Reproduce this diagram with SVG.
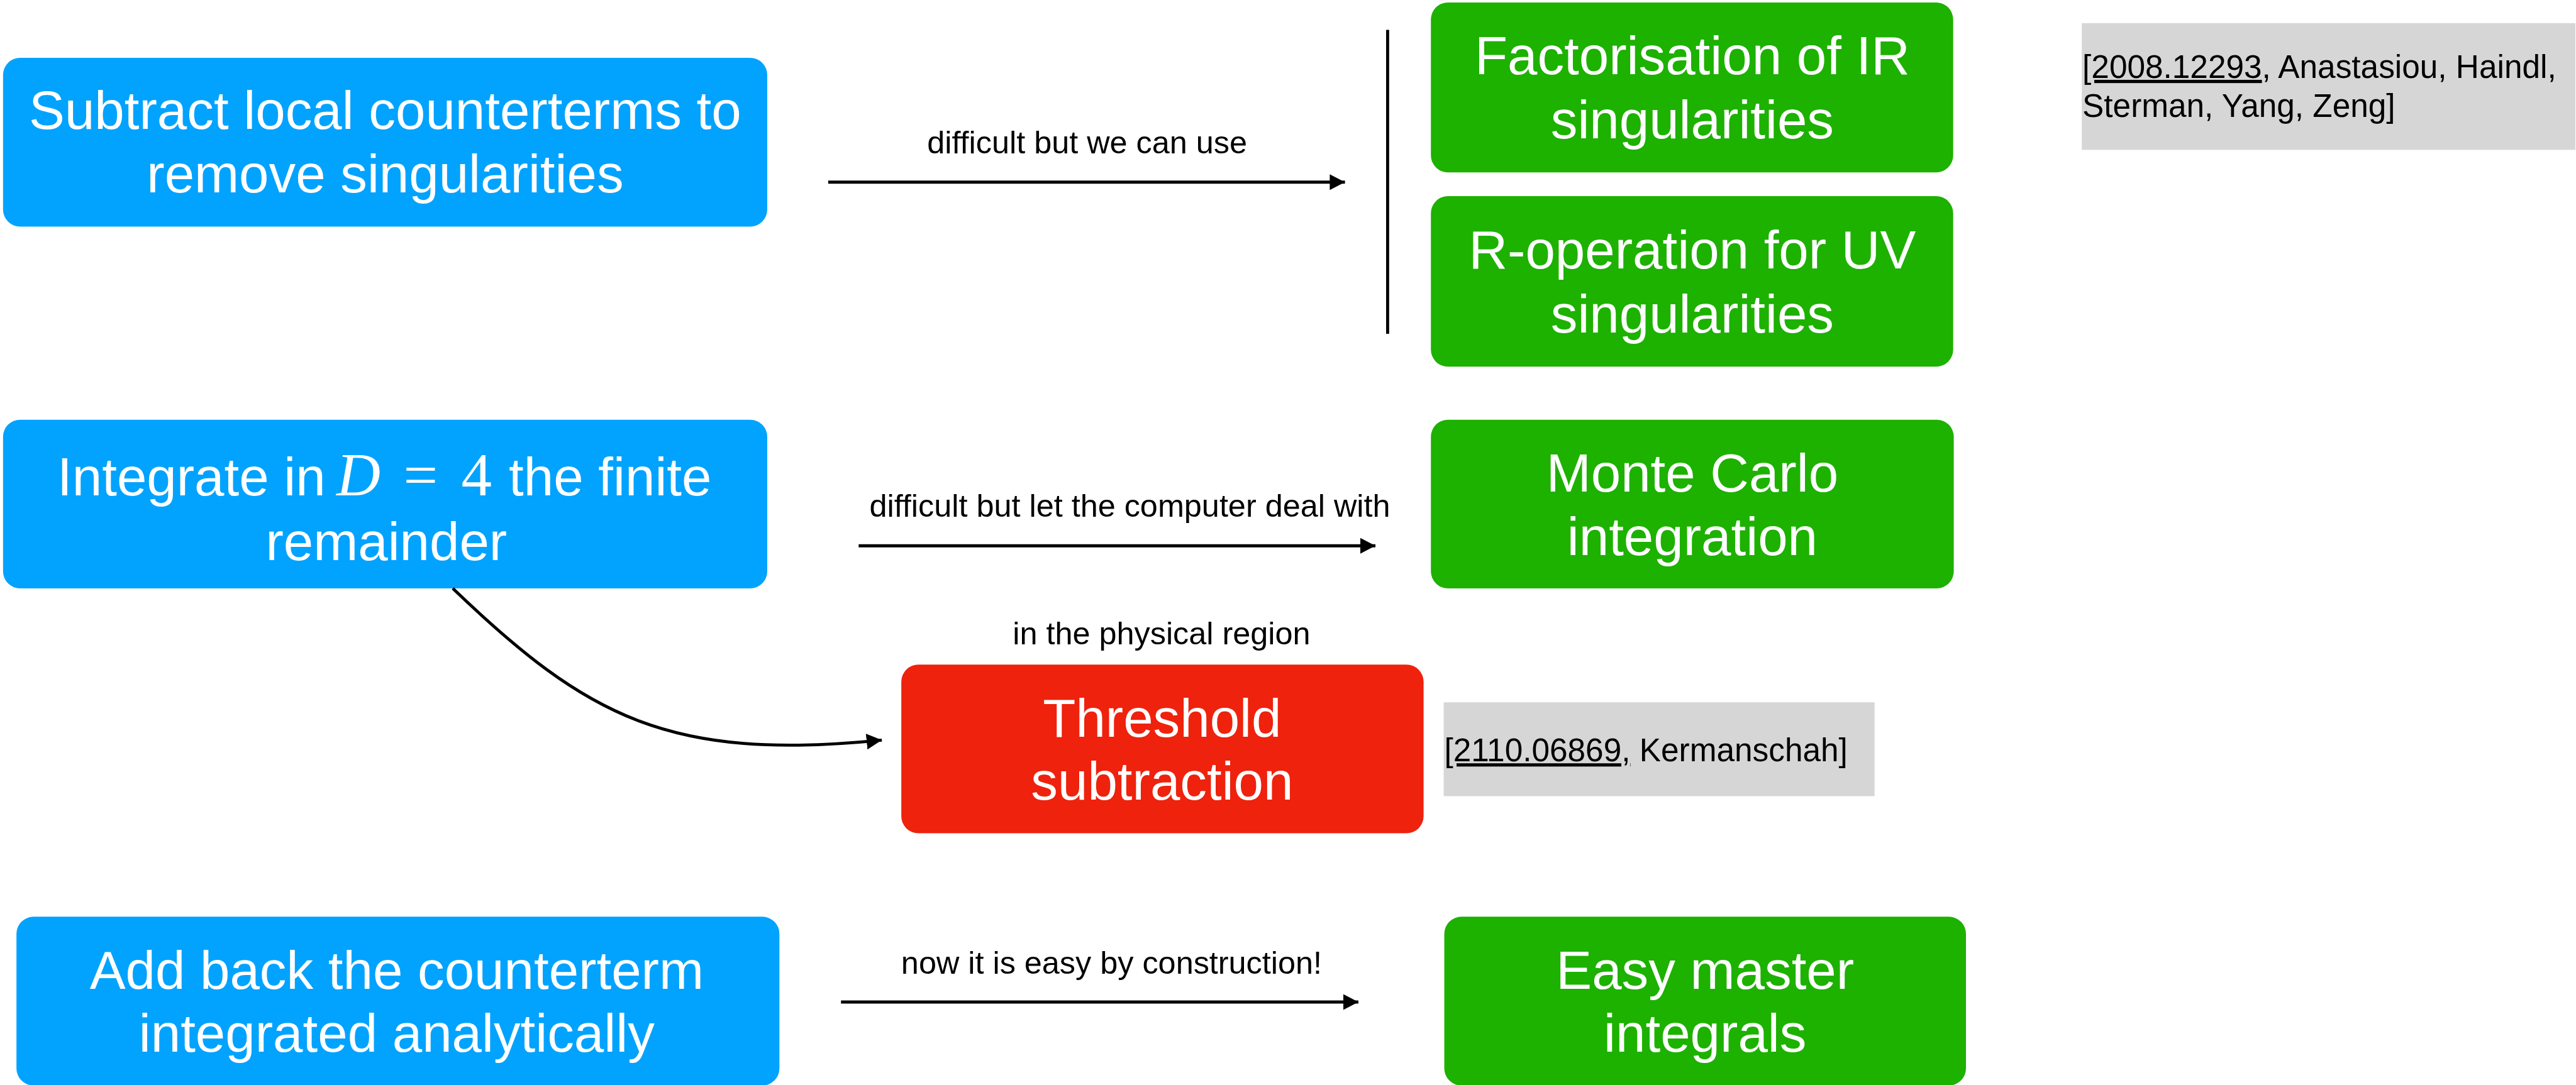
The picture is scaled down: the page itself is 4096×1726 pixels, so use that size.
<svg xmlns="http://www.w3.org/2000/svg" width="4096" height="1726" viewBox="0 0 4096 1726">
<style>
.box-blue{fill:#02a3fe}
.box-green{fill:#1db100}
.box-red{fill:#ee220d}
.ref{fill:#d6d6d6}
.t{font-family:"Liberation Sans",Arial,Helvetica,sans-serif;font-size:88px;fill:#ffffff;text-anchor:middle}
.lbl{font-family:"Liberation Sans",Arial,Helvetica,sans-serif;font-size:52px;fill:#000000;text-anchor:middle}
.rt{font-family:"Liberation Sans",Arial,Helvetica,sans-serif;font-size:53px;fill:#000000}
.math{font-family:"Liberation Serif","Times New Roman",serif;font-size:100px}
.conn{stroke:#000000;stroke-width:5;fill:none}
</style>
<defs>
<marker id="arrow" markerUnits="userSpaceOnUse" markerWidth="26" markerHeight="26" viewBox="0 0 26 26" refX="25" refY="13" orient="auto">
<path d="M0,0 L25,13 L0,26 Z" fill="#000000"/>
</marker>
</defs>
<rect width="4096" height="1726" fill="#ffffff"/>
<g transform="scale(0.969)">
<g id="n-subtract">
<rect class="box-blue" x="5" y="95" width="1254" height="277" rx="28"/>
<text class="t" x="632" y="212">Subtract local counterterms to</text>
<text class="t" x="632" y="316">remove singularities</text>
</g>
<g id="n-integrate">
<rect class="box-blue" x="5" y="689" width="1254" height="277" rx="28"/>
<text class="t" style="text-anchor:start" y="813"><tspan x="94">Integrate in</tspan><tspan class="math" x="552" font-style="italic">D</tspan><tspan class="math" x="662">=</tspan><tspan class="math" x="757">4</tspan><tspan x="835">the finite</tspan></text>
<text class="t" x="634" y="920">remainder</text>
</g>
<g id="n-addback">
<rect class="box-blue" x="27" y="1505" width="1252" height="277" rx="28"/>
<text class="t" x="651" y="1623">Add back the counterterm</text>
<text class="t" x="651" y="1727">integrated analytically</text>
</g>
<g id="n-factorisation">
<rect class="box-green" x="2348" y="4" width="857" height="279" rx="28"/>
<text class="t" x="2777" y="122">Factorisation of IR</text>
<text class="t" x="2777" y="227">singularities</text>
</g>
<g id="n-roperation">
<rect class="box-green" x="2348" y="322" width="857" height="280" rx="28"/>
<text class="t" x="2777" y="441">R-operation for UV</text>
<text class="t" x="2777" y="546">singularities</text>
</g>
<g id="n-montecarlo">
<rect class="box-green" x="2348" y="689" width="858" height="277" rx="28"/>
<text class="t" x="2777" y="807">Monte Carlo</text>
<text class="t" x="2777" y="911">integration</text>
</g>
<g id="n-threshold">
<rect class="box-red" x="1479" y="1091" width="857" height="277" rx="28"/>
<text class="t" x="1907" y="1209">Threshold</text>
<text class="t" x="1907" y="1313">subtraction</text>
</g>
<g id="n-easy">
<rect class="box-green" x="2370" y="1505" width="856" height="277" rx="28"/>
<text class="t" x="2798" y="1623">Easy master</text>
<text class="t" x="2798" y="1727">integrals</text>
</g>
<g id="n-ref1">
<rect class="ref" x="3416" y="38" width="810" height="208"/>
<text class="rt" x="3417" y="128"><tspan text-decoration="underline">[2008.12293</tspan>, Anastasiou, Haindl,</text>
<text class="rt" x="3417" y="192">Sterman, Yang, Zeng]</text>
</g>
<g id="n-ref2">
<rect class="ref" x="2369" y="1153" width="707" height="154"/>
<text class="rt" x="2370" y="1250"><tspan text-decoration="underline">[2110.06869,</tspan> Kermanschah]</text>
</g>
<g id="connectors">
<line class="conn" x1="1359" y1="299" x2="2207" y2="299" marker-end="url(#arrow)"/>
<line class="conn" x1="1409" y1="896" x2="2257" y2="896" marker-end="url(#arrow)"/>
<line class="conn" x1="1380" y1="1645" x2="2229" y2="1645" marker-end="url(#arrow)"/>
<line class="conn" x1="2277" y1="49" x2="2277" y2="548"/>
<path class="conn" d="M743,966 C963,1177 1097,1250 1447,1215" marker-end="url(#arrow)"/>
<text class="lbl" x="1784" y="252">difficult but we can use</text>
<text class="lbl" x="1854" y="848">difficult but let the computer deal with</text>
<text class="lbl" x="1906" y="1058">in the physical region</text>
<text class="lbl" x="1824" y="1599">now it is easy by construction!</text>
</g>
</g>
</svg>
